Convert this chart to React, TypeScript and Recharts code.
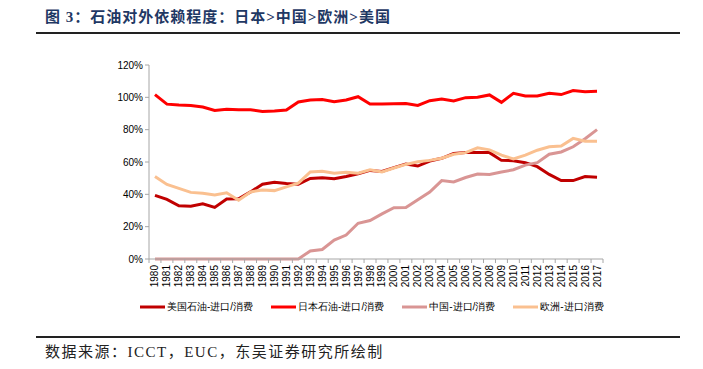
import { LineChart, Line, XAxis, YAxis, Legend } from 'recharts';

const years = [
  '1980', '1981', '1982', '1983', '1984', '1985', '1986', '1987', '1988', '1989',
  '1990', '1991', '1992', '1993', '1994', '1995', '1996', '1997', '1998', '1999',
  '2000', '2001', '2002', '2003', '2004', '2005', '2006', '2007', '2008', '2009',
  '2010', '2011', '2012', '2013', '2014', '2015', '2016', '2017',
];

// 进口/消费 (%)
const usShare = [
  39.4, 36.9, 32.9, 32.7, 34.2, 31.9, 37.1, 37.3, 41.5, 46.3,
  47.5, 46.7, 46.3, 49.8, 50.2, 49.6, 51.0, 52.7, 54.8, 54.2,
  56.5, 58.8, 57.5, 60.6, 62.3, 65.2, 65.8, 65.8, 65.8, 61.0,
  60.8, 59.6, 57.1, 52.3, 48.5, 48.5, 51.0, 50.6,
];
const japanShare = [
  101.7, 95.8, 95.3, 95.0, 94.0, 91.9, 92.7, 92.3, 92.3, 91.3,
  91.5, 92.1, 97.1, 98.3, 98.6, 97.3, 98.4, 100.4, 95.9, 95.8,
  96.0, 96.2, 95.0, 97.9, 99.0, 97.7, 99.8, 100.0, 101.5, 96.9,
  102.5, 100.8, 100.8, 102.5, 101.7, 104.2, 103.5, 103.7,
];
const chinaShare = [
  0, 0, 0, 0, 0, 0, 0, 0, 0, 0,
  0, 0, 0, 5.0, 5.9, 11.7, 14.8, 22.1, 23.8, 27.9,
  31.7, 31.9, 36.7, 41.4, 48.5, 47.7, 50.4, 52.5, 52.3, 53.8,
  55.2, 58.1, 59.6, 64.8, 66.2, 69.4, 74.4, 80.0,
];
const europeShare = [
  51.0, 46.1, 43.7, 41.2, 40.6, 39.6, 41.0, 36.3, 41.5, 42.7,
  42.3, 44.6, 46.9, 53.8, 54.2, 53.1, 53.6, 53.1, 55.2, 53.8,
  56.3, 58.5, 60.2, 61.0, 62.3, 64.8, 65.8, 68.8, 67.5, 64.2,
  61.9, 64.2, 67.3, 69.4, 69.9, 74.6, 72.9, 72.9,
];

const yTicks = [0, 20, 40, 60, 80, 100, 120];

const series = [
  { key: 'us', name: '美国石油-进口/消费', color: '#C00000' },
  { key: 'japan', name: '日本石油-进口/消费', color: '#FF0000' },
  { key: 'china', name: '中国-进口/消费', color: '#D99594' },
  { key: 'europe', name: '欧洲-进口消费', color: '#FAC090' },
];

const data = years.map((year, i) => ({
  year,
  us: usShare[i],
  japan: japanShare[i],
  china: chinaShare[i],
  europe: europeShare[i],
}));

const PLOT_LEFT = 149;
const PLOT_RIGHT = 603;
const BAND = (PLOT_RIGHT - PLOT_LEFT) / years.length;
const AXIS_COLOR = '#A6A6A6';
const FONT = 'Arial, "Liberation Sans", sans-serif';
const SERIF_CJK = '"Liberation Serif", "Noto Sans CJK SC", serif';

const YearTick = ({ x, y, payload, index }: any) => {
  const isLast = index === years.length - 1;
  return (
    <g>
      <line x1={x - BAND / 2} x2={x - BAND / 2} y1={y - 8} y2={y - 4} stroke={AXIS_COLOR} />
      {isLast && (
        <line x1={x + BAND / 2} x2={x + BAND / 2} y1={y - 8} y2={y - 4} stroke={AXIS_COLOR} />
      )}
      <text
        transform={`translate(${x}, ${y - 2}) rotate(-90)`}
        textAnchor="end"
        dy="0.35em"
        fontSize={10}
        fontFamily={FONT}
        fill="#000"
      >
        {payload.value}
      </text>
    </g>
  );
};

const LegendContent = () => (
  <div style={{ display: 'flex', alignItems: 'center', fontFamily: FONT, fontSize: 10, color: '#000' }}>
    {series.map((s) => (
      <div key={s.key} style={{ display: 'flex', alignItems: 'center', marginRight: 18 }}>
        <svg width={25} height={4} style={{ display: 'block' }}>
          <line x1={0} x2={25} y1={2} y2={2} stroke={s.color} strokeWidth={3} />
        </svg>
        <span style={{ marginLeft: 2, whiteSpace: 'nowrap' }}>{s.name}</span>
      </div>
    ))}
  </div>
);

export default function App() {
  return (
    <div style={{ position: 'absolute', left: 0, top: 0, width: 703, height: 369, background: '#fff', overflow: 'hidden' }}>
      <div
        style={{
          position: 'absolute',
          left: 45,
          top: 7,
          fontFamily: SERIF_CJK,
          fontWeight: 'bold',
          fontSize: 15,
          letterSpacing: 1,
          color: '#1F3864',
          whiteSpace: 'nowrap',
          lineHeight: '20px',
        }}
      >
        图 3：石油对外依赖程度：日本&gt;中国&gt;欧洲&gt;美国
      </div>
      <div style={{ position: 'absolute', left: 36, top: 32, width: 644, height: 2, background: '#222' }} />

      <div style={{ position: 'absolute', left: 0, top: 0 }}>
        <LineChart
          width={703}
          height={369}
          data={data}
          margin={{ top: 51, right: 703 - PLOT_RIGHT, bottom: 70, left: 100 }}
        >
          <XAxis
            dataKey="year"
            interval={0}
            height={40}
            padding={{ left: BAND / 2, right: BAND / 2 }}
            axisLine={{ stroke: AXIS_COLOR }}
            tickLine={false}
            tick={<YearTick />}
          />
          <YAxis
            width={49}
            domain={[0, 120]}
            ticks={yTicks}
            interval={0}
            tickFormatter={(v: number) => `${v}%`}
            axisLine={{ stroke: AXIS_COLOR }}
            tickLine={{ stroke: AXIS_COLOR }}
            tickSize={4}
            tick={{ fontSize: 10, fontFamily: FONT, fill: '#000' }}
          />
          <Legend
            verticalAlign="top"
            content={<LegendContent />}
            wrapperStyle={{ position: 'absolute', left: 140, top: 300, width: 'auto' }}
          />
          {series.map((s) => (
            <Line
              key={s.key}
              type="linear"
              dataKey={s.key}
              name={s.name}
              stroke={s.color}
              strokeWidth={3}
              dot={false}
              activeDot={false}
              isAnimationActive={false}
            />
          ))}
        </LineChart>
      </div>

      <div style={{ position: 'absolute', left: 36, top: 336, width: 644, height: 2, background: '#222' }} />
      <div
        style={{
          position: 'absolute',
          left: 45,
          top: 343,
          fontFamily: SERIF_CJK,
          fontSize: 15,
          letterSpacing: 1.5,
          color: '#222',
          whiteSpace: 'nowrap',
          lineHeight: '18px',
        }}
      >
        数据来源：ICCT，EUC，东吴证券研究所绘制
      </div>
    </div>
  );
}
